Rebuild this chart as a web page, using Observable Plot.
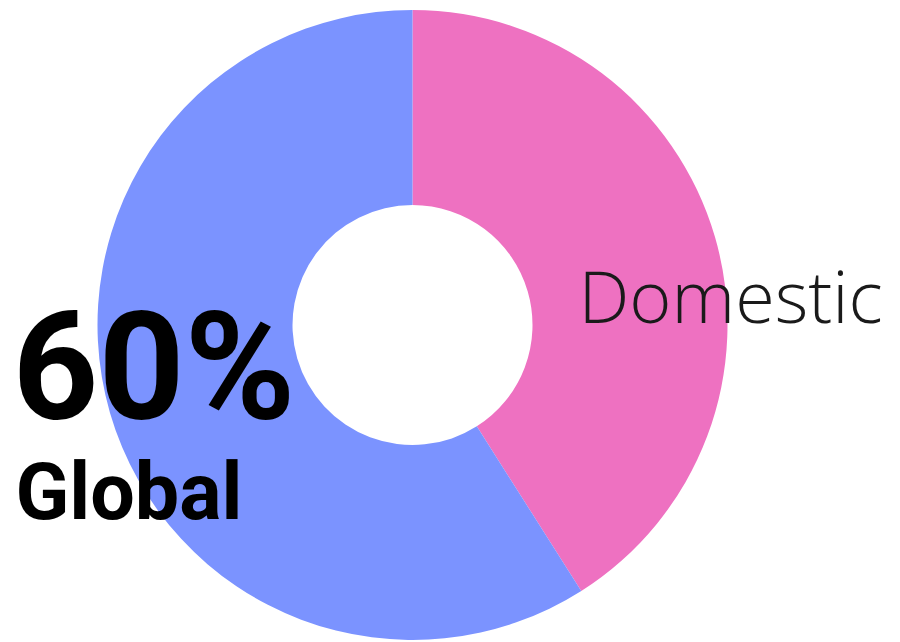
<!DOCTYPE html>
<html>
<head>
<meta charset="utf-8">
<script src="https://cdn.jsdelivr.net/npm/d3@7"></script>
<script src="https://cdn.jsdelivr.net/npm/@observablehq/plot@0.6"></script>
<style>
  html, body { margin: 0; padding: 0; background: #fff; }
  #chart { width: 900px; height: 642px; overflow: hidden; }
</style>
</head>
<body>
<div id="chart"></div>
<script>
const categories = ["Domestic", "Global"];
const values = [41, 59];
const bigLabel = ["60%"];
const colors = ["#EE71C1", "#7B93FF"];

const data = categories.map((c, i) => ({category: c, value: values[i]}));
const total = d3.sum(values);

const cx = 412.5, cy = 325, rOuter = 315, rInner = 120;

const plot = Plot.plot({
  width: 900,
  height: 642,
  margin: 0,
  x: {domain: [0, total], range: [0, 2 * Math.PI], axis: null},
  color: {domain: categories, range: colors},
  style: {background: "transparent"},
  marks: [
    Plot.barX(data, Plot.stackX({
      x: "value",
      fill: "category",
      render(index, scales, V) {
        const arc = d3.arc().innerRadius(rInner).outerRadius(rOuter);
        const g = d3.create("svg:g").attr("transform", `translate(${cx},${cy})`);
        g.selectAll("path").data(index).join("path")
          .attr("d", i => arc({startAngle: V.x1[i], endAngle: V.x2[i]}))
          .attr("fill", i => V.fill[i]);
        return g.node();
      }
    })),
    Plot.text([categories[0]], {
      text: d => d,
      frameAnchor: "top-left",
      textAnchor: "start",
      lineAnchor: "bottom",
      dx: 578,
      dy: 322,
      fontSize: 72,
      fontWeight: 300,
      fontFamily: "'Open Sans', Roboto, sans-serif",
      fill: "#1a1a1a"
    }),
    Plot.text(bigLabel, {
      text: d => d,
      frameAnchor: "top-left",
      textAnchor: "start",
      lineAnchor: "bottom",
      dx: 12,
      dy: 418,
      fontSize: 150,
      fontWeight: 700,
      fontFamily: "Roboto, 'DejaVu Sans', sans-serif",
      fill: "#000"
    }),
    Plot.text([categories[1]], {
      text: d => d,
      frameAnchor: "top-left",
      textAnchor: "start",
      lineAnchor: "bottom",
      dx: 15,
      dy: 518,
      fontSize: 79,
      fontWeight: 700,
      fontFamily: "Roboto, 'DejaVu Sans', sans-serif",
      fill: "#000"
    })
  ]
});
document.getElementById("chart").append(plot);
</script>
</body>
</html>
